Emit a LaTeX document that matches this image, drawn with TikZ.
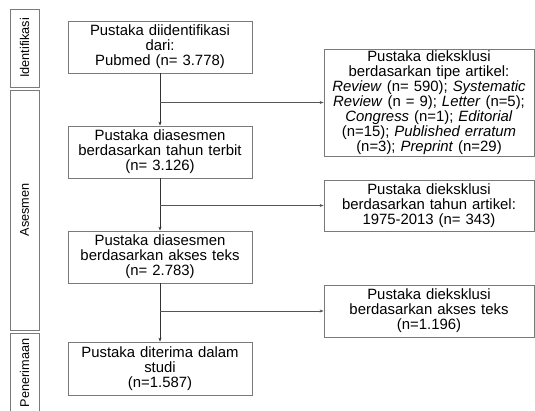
\documentclass[tikz,border=0pt]{standalone}
\usepackage{fontspec}
\setmainfont{Liberation Sans}
\usetikzlibrary{arrows.meta}
\definecolor{boxgray}{HTML}{7A7A7A}
\definecolor{linegray}{HTML}{333333}
\definecolor{branchgray}{HTML}{555555}
\begin{document}
\begin{tikzpicture}[x=1pt,y=-1pt,
  box/.style={draw=boxgray, line width=0.8pt, align=center, inner sep=0pt,
    font=\fontsize{14.9}{15}\selectfont},
  mainbox/.style={box, minimum width=184pt, minimum height=52pt, text width=184pt},
  exbox/.style={box, minimum width=210pt, text width=208pt},
  phase/.style={draw=boxgray, line width=0.8pt, rotate=90, inner sep=0pt,
    minimum height=29pt, font=\fontsize{12.7}{13}\selectfont},
  conn/.style={draw=linegray, line width=0.8pt, -{Stealth[length=4pt,width=3pt]}},
  branch/.style={draw=branchgray, line width=0.8pt, -{Stealth[length=4pt,width=3pt]}}
]
\useasboundingbox (0,0) rectangle (535,411);

% phase labels
\node[phase, minimum width=78pt] (pid) at (24.5,48) {Identifikasi};
\node[phase, minimum width=240pt] (pas) at (24.5,210) {Asesmen};
\node[phase, minimum width=80pt] (ppe) at (24.5,373) {Penerimaan};

% main column
\node[mainbox] (b1) at (160,47) {Pustaka diidentifikasi\\dari:\\Pubmed (n= 3.778)};
\node[mainbox] (b2) at (160,152) {Pustaka diasesmen\\berdasarkan tahun terbit\\(n= 3.126)};
\node[mainbox] (b3) at (160,257) {Pustaka diasesmen\\berdasarkan akses teks\\(n= 2.783)};
\node[mainbox, minimum height=53pt] (b4) at (160,368.5) {Pustaka diterima dalam\\studi\\(n=1.587)};

% exclusion boxes
\node[exbox, minimum height=107pt] (r1) at (429,102.5) {Pustaka dieksklusi\\berdasarkan tipe artikel:\\\textit{Review} (n= 590); \textit{Systematic}\\\textit{Review} (n = 9); \textit{Letter} (n=5);\\\textit{Congress} (n=1); \textit{Editorial}\\(n=15); \textit{Published erratum}\\(n=3); \textit{Preprint} (n=29)};
\node[exbox, minimum height=51pt] (r2) at (429,205.5) {Pustaka dieksklusi\\berdasarkan tahun artikel:\\1975-2013 (n= 343)};
\node[exbox, minimum height=52pt] (r3) at (429,311) {Pustaka dieksklusi\\berdasarkan akses teks\\(n=1.196)};

% connectors
\draw[conn] (b1) -- (b2);
\draw[conn] (b2) -- (b3);
\draw[conn] (b3) -- (b4);
\draw[branch] (b1.south |- r1.west) -- (r1.west);
\draw[branch] (b2.south |- r2.west) -- (r2.west);
\draw[branch] (b3.south |- r3.west) -- (r3.west);
\end{tikzpicture}
\end{document}
